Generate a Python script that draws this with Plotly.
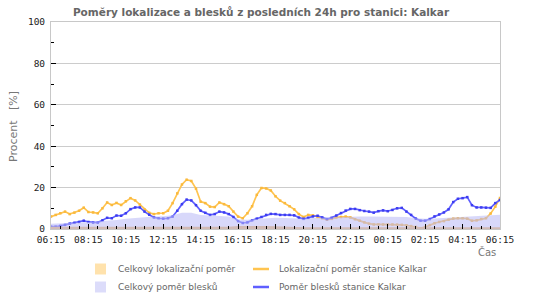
import pandas as pd
import plotly.graph_objects as go

# ---- data ----
start = "2024-01-01 06:15"
tick_labels = ["06:15", "08:15", "10:15", "12:15", "14:15", "16:15", "18:15",
               "20:15", "22:15", "00:15", "02:15", "04:15", "06:15"]

# station localization ratio (15 min steps) [%]
lok_stanice = [6.0, 6.8, 7.6, 8.4, 7.2, 7.9, 8.8, 10.3, 8.2, 8.0, 7.6, 10.0,
               12.8, 11.6, 12.6, 11.6, 13.4, 14.9, 13.8, 11.8, 9.4, 7.8, 7.2, 7.6,
               7.6, 8.8, 12.5, 17.2, 21.5, 23.8, 23.2, 19.5, 13.2, 12.5, 10.8, 10.6,
               12.8, 12.0, 11.0, 8.4, 6.0, 5.2, 7.6, 11.0, 16.5, 19.8, 19.6, 18.6,
               15.8, 13.7, 12.5, 11.0, 9.5, 7.2, 5.8, 6.8, 6.6, 5.8, 5.2, 4.5,
               4.9, 5.6, 5.8, 6.0, 5.6, 4.7, 4.0, 3.2, 2.6, 2.2, 2.2, 2.2,
               2.2, 2.2, 2.1, 2.0, 1.8, 1.4, 1.0, 0.4, 0.9, 1.9, 2.8, 3.4,
               3.8, 4.5, 5.0, 5.2, 5.2, 5.0, 4.0, 4.2, 4.8, 5.2, 7.5, 10.8, 15.0]

# station lightning ratio (15 min steps) [%]
blesky_stanice = [1.1, 1.1, 1.5, 2.0, 2.6, 3.0, 3.4, 4.0, 3.4, 3.1, 3.1, 4.2,
                  5.4, 5.2, 6.5, 6.4, 7.6, 9.6, 10.4, 10.4, 8.4, 6.9, 5.6, 5.2,
                  5.0, 5.2, 6.0, 8.8, 12.0, 14.2, 13.8, 11.5, 8.8, 7.8, 6.8, 7.2,
                  8.4, 8.0, 7.2, 5.8, 3.8, 2.9, 3.2, 4.2, 5.0, 5.8, 6.8, 7.3,
                  7.2, 6.8, 6.8, 6.8, 6.6, 5.5, 4.9, 5.4, 6.1, 6.4, 5.6, 4.8,
                  5.4, 6.5, 7.7, 8.9, 9.7, 9.7, 9.1, 8.7, 8.4, 7.9, 8.6, 9.0,
                  8.6, 9.2, 10.0, 10.2, 8.4, 6.8, 5.0, 4.0, 4.0, 4.8, 6.1, 7.0,
                  8.0, 9.5, 13.0, 14.6, 14.9, 15.4, 11.5, 10.4, 10.4, 10.3, 10.2, 12.5, 14.0]

# overall lightning ratio (30 min steps) [%]
blesky_celkem = [2.5, 2.6, 2.8, 3.1, 3.4, 3.6, 3.9, 4.3, 5.0, 5.4, 5.8, 6.0,
                 6.1, 6.6, 7.8, 7.8, 6.8, 6.4, 6.3, 6.0, 4.6, 4.5, 4.9, 5.3,
                 5.4, 5.3, 5.1, 4.9, 5.3, 5.5, 5.7, 5.8, 5.9, 6.0, 6.0, 6.0,
                 6.0, 6.0, 5.8, 5.2, 4.9, 5.1, 5.4, 5.6, 6.0, 6.2, 6.5, 6.7, 6.9]

# overall localization ratio (30 min steps) [%]
lok_celkem = [1.1, 1.1, 1.1, 1.1, 1.1, 1.1, 1.1, 1.1, 1.0, 1.0, 1.0, 1.0,
              1.0, 0.9, 0.9, 0.9, 0.8, 0.8, 0.9, 1.1, 1.4, 1.5, 1.6, 1.5,
              1.3, 1.1, 1.0, 0.9, 0.9, 0.9, 0.9, 0.9, 0.9, 0.8, 0.8, 0.8,
              0.8, 0.8, 0.8, 0.8, 0.8, 0.8, 0.8, 0.8, 0.8, 0.8, 0.8, 0.8, 0.8]

t15 = pd.date_range(start, periods=len(lok_stanice), freq="15min")
t30 = pd.date_range(start, periods=len(blesky_celkem), freq="30min")

ORANGE_LINE = "rgb(255,196,80)"
BLUE_LINE = "rgb(95,95,255)"
ORANGE_SQ = "rgb(255,226,172)"
LAV_SQ = "rgb(220,220,250)"

fig = go.Figure()
fig.add_trace(go.Scatter(x=t15, y=lok_stanice, mode="lines+markers",
                         line=dict(color=ORANGE_LINE, width=1.7),
                         marker=dict(color="rgb(250,185,60)", size=2.5, symbol="square"),
                         name="Lokalizační poměr stanice Kalkar", showlegend=False))
fig.add_trace(go.Scatter(x=t15, y=blesky_stanice, mode="lines+markers",
                         line=dict(color=BLUE_LINE, width=1.7),
                         marker=dict(color="rgb(60,60,240)", size=2.5, symbol="square"),
                         name="Poměr blesků stanice Kalkar", showlegend=False))
fig.add_trace(go.Scatter(x=t30, y=lok_celkem, mode="lines", fill="tozeroy",
                         line=dict(width=0, color="rgb(239,186,99)"),
                         fillcolor="rgb(239,186,99)",
                         name="Celkový lokalizační poměr", showlegend=False))
fig.add_trace(go.Scatter(x=t30, y=blesky_celkem, mode="lines", fill="tozeroy",
                         line=dict(width=0, color="rgba(186,186,246,0.57)"),
                         fillcolor="rgba(186,186,246,0.57)",
                         name="Celkový poměr blesků", showlegend=False))

W, H = 550, 300
L, R, T, B = 51, 50, 22, 71
pw, ph = W - L - R, H - T - B

def px(x):
    return (x - L) / pw

def py(y):
    return (H - B - y) / ph

shapes = []
annotations = []
legend_items = [
    ("sq", ORANGE_SQ, "Celkový lokalizační poměr", 95, 269),
    ("ln", ORANGE_LINE, "Lokalizační poměr stanice Kalkar", 253, 269),
    ("sq", LAV_SQ, "Celkový poměr blesků", 95, 287),
    ("ln", BLUE_LINE, "Poměr blesků stanice Kalkar", 253, 287),
]
for kind, col, text, x0, yc in legend_items:
    if kind == "sq":
        shapes.append(dict(type="rect", xref="paper", yref="paper",
                           x0=px(x0), x1=px(x0 + 11), y0=py(yc - 5.5), y1=py(yc + 5.5),
                           fillcolor=col, line=dict(width=0)))
        tx = x0 + 21
    else:
        shapes.append(dict(type="line", xref="paper", yref="paper",
                           x0=px(x0), x1=px(x0 + 16), y0=py(yc), y1=py(yc),
                           line=dict(color=col, width=2.5)))
        tx = x0 + 24
    annotations.append(dict(text=text, xref="paper", yref="paper", x=px(tx), y=py(yc),
                            xanchor="left", yanchor="middle", showarrow=False,
                            font=dict(family="DejaVu Sans", size=9, color="#666")))

annotations.append(dict(text="Čas", xref="paper", yref="paper", x=px(498), y=py(252),
                        xanchor="right", yanchor="middle", showarrow=False,
                        font=dict(family="DejaVu Sans", size=10, color="#777")))
annotations.append(dict(text="Procent   [%]", xref="paper", yref="paper", x=px(13), y=py(127),
                        xanchor="center", yanchor="middle", showarrow=False, textangle=-90,
                        font=dict(family="DejaVu Sans", size=11, color="#777")))

fig.update_layout(
    width=W, height=H,
    margin=dict(l=L, r=R, t=T, b=B),
    paper_bgcolor="white", plot_bgcolor="white",
    title=dict(text="<b>Poměry lokalizace a blesků z posledních 24h pro stanici: Kalkar</b>",
               x=261 / W, xanchor="center", y=1 - 12 / H, yanchor="middle",
               font=dict(family="DejaVu Sans", size=10.5, color="#666")),
    shapes=shapes, annotations=annotations,
    showlegend=False,
)
fig.update_xaxes(
    type="date", range=[t15[0], t15[-1]],
    tickvals=list(pd.date_range(start, periods=len(tick_labels), freq="2h")),
    ticktext=tick_labels,
    ticks="inside", ticklen=5, tickcolor="black", tickwidth=1,
    minor=dict(dtick=1800000, tick0=t15[0], ticks="inside", ticklen=3, tickcolor="black", showgrid=False),
    showgrid=False, showline=True, linecolor="#c8c8c8", linewidth=1, mirror=True,
    tickfont=dict(family="DejaVu Sans Mono", size=9.5, color="#222"),
    zeroline=False, ticklabelstandoff=2,
)
fig.update_yaxes(
    range=[0, 100], dtick=20, tick0=0,
    ticks="inside", ticklen=5, tickcolor="black", tickwidth=1,
    minor=dict(dtick=10, ticks="inside", ticklen=3, tickcolor="black", showgrid=False),
    showgrid=True, gridcolor="#cccccc", gridwidth=1,
    showline=True, linecolor="#c8c8c8", linewidth=1, mirror=True,
    tickfont=dict(family="DejaVu Sans Mono", size=9.5, color="#222"),
    zeroline=False, ticklabelstandoff=3,
)

fig.write_html("out.html")
